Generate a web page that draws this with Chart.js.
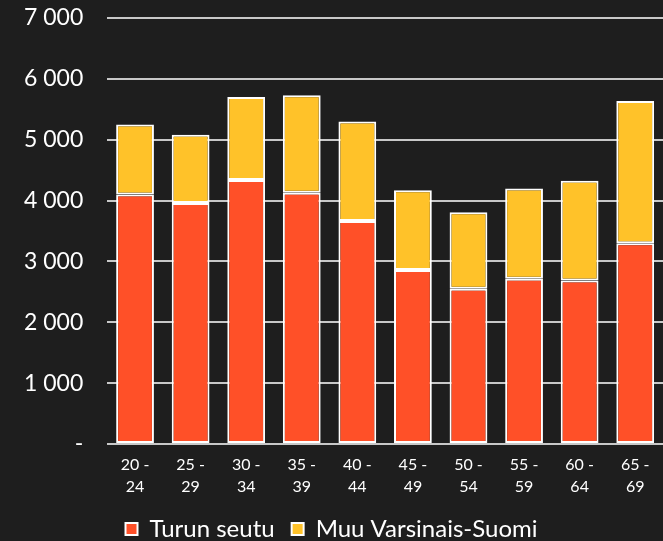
<!DOCTYPE html>
<html><head><meta charset="utf-8">
<script src="https://cdn.jsdelivr.net/npm/chart.js@4"></script>
<style>html,body{margin:0;padding:0;background:#1e1e1e;}#wrap{width:663px;height:541px;}</style>
</head><body><div id="wrap"><canvas id="c" width="663" height="541"></canvas></div>
<script>
const categories = [["20 -","24"],["25 -","29"],["30 -","34"],["35 -","39"],["40 -","44"],["45 -","49"],["50 -","54"],["55 -","59"],["60 -","64"],["65 -","69"]];
const turunSeutu = [4100, 3960, 4340, 4130, 3665, 2860, 2550, 2715, 2685, 3300];
const muuVarsinaisSuomi = [1150, 1120, 1360, 1600, 1635, 1310, 1260, 1485, 1640, 2335];
const seriesNames = ["Turun seutu", "Muu Varsinais-Suomi"];
const yTicks = [0, 1000, 2000, 3000, 4000, 5000, 6000, 7000];

const fontFam = "Lato, 'Open Sans', sans-serif";
const spacing = {
  id: 'spacing',
  beforeInit(chart) { chart.ctx.letterSpacing = '1px'; }
};
new Chart(document.getElementById('c'), {
  type: 'bar',
  plugins: [spacing],
  data: {
    labels: categories,
    datasets: [
      {label: seriesNames[0], data: turunSeutu, backgroundColor: '#ff5028', borderColor: '#ffffff', borderWidth: 2, borderSkipped: false, categoryPercentage: 0.8, barPercentage: 0.85},
      {label: seriesNames[1], data: muuVarsinaisSuomi, backgroundColor: '#ffc229', borderColor: '#ffffff', borderWidth: 2, borderSkipped: false, categoryPercentage: 0.8, barPercentage: 0.85}
    ]
  },
  options: {
    responsive: false,
    animation: false,
    layout: {padding: {top: 0, right: 0, left: 0, bottom: -10}},
    plugins: {
      legend: {position: 'bottom', labels: {color: '#ffffff', boxWidth: 12, boxHeight: 12, padding: 17, font: {family: fontFam, size: 24}}},
      tooltip: {enabled: false}
    },
    scales: {
      x: {stacked: true, grid: {display: false}, border: {display: false},
          ticks: {color: '#ffffff', font: {family: fontFam, size: 16, lineHeight: 1.375}, maxRotation: 0, padding: 2}},
      y: {stacked: true, min: 0, max: 7000,
          afterBuildTicks: (ax) => { ax.ticks = yTicks.map(v => ({value: v})); },
          afterFit: (s) => { s.paddingTop = 18; s.paddingBottom = 0; },
          grid: {color: '#c8c8c8', lineWidth: 2, drawTicks: false}, border: {display: false},
          ticks: {color: '#ffffff', padding: 24, font: {family: fontFam, size: 23},
            callback: (v) => v === 0 ? '-' : String(v).replace(/\B(?=(\d{3})+(?!\d))/g, ' ')}}
    }
  }
});
</script></body></html>
